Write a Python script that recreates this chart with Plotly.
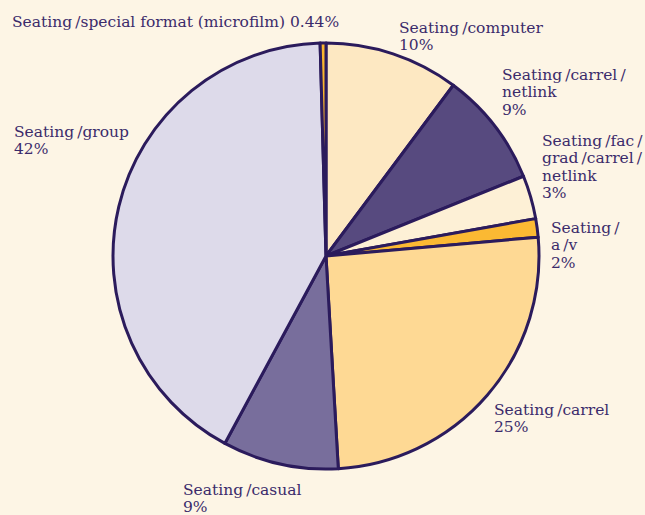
import plotly.graph_objects as go

# ---- data ----
categories = [
    "Seating/computer",
    "Seating/carrel/netlink",
    "Seating/fac/grad/carrel/netlink",
    "Seating/a/v",
    "Seating/carrel",
    "Seating/casual",
    "Seating/group",
    "Seating/special format (microfilm)",
]
values = [10.2, 8.7, 3.3, 1.4, 25.5, 8.8, 41.7, 0.44]
pct_labels = ["10%", "9%", "3%", "2%", "25%", "9%", "42%", "0.44%"]
S = "\u2009/"  # thin space before slash, like the reference's typesetting
label_lines = [
    [f"Seating{S}computer", "10%"],
    [f"Seating{S}carrel{S}", "netlink", "9%"],
    [f"Seating{S}fac{S}", f"grad{S}carrel{S}", "netlink", "3%"],
    [f"Seating{S}", f"a{S}v", "2%"],
    [f"Seating{S}carrel", "25%"],
    [f"Seating{S}casual", "9%"],
    [f"Seating{S}group", "42%"],
    [f"Seating{S}special format (microfilm) 0.44%"],
]
colors = ["#fde8c2", "#574a7f", "#fdf0d6", "#fbb933", "#fed994", "#786e9c", "#dddaea", "#f9b52e"]

# ---- layout (pixels) ----
W, H = 645, 515
cx, cy, R = 326, 256, 213
# label anchor: left x, first baseline y
label_pos = [
    (397, 33), (500, 80), (540, 146), (549, 233),
    (492, 415), (181, 495), (12, 137), (10, 27),
]
LINE = 17.3
FONT = "DejaVu Serif"
FS = 15.5
TXT = "#3b2b6b"

fig = go.Figure(go.Pie(
    labels=categories,
    values=values,
    sort=False,
    direction="clockwise",
    rotation=0,
    marker=dict(colors=colors, line=dict(color="#2b1b5c", width=3)),
    textinfo="none",
    hoverinfo="skip",
    showlegend=False,
    domain=dict(x=[(cx - R) / W, (cx + R) / W], y=[1 - (cy + R) / H, 1 - (cy - R) / H]),
))

annotations = []
for lines, (lx, ly) in zip(label_lines, label_pos):
    for i, t in enumerate(lines):
        base = ly + i * LINE
        annotations.append(dict(
            text=t, x=lx / W, y=1 - (base - 5) / H, xref="paper", yref="paper",
            xanchor="left", yanchor="middle", showarrow=False,
            font=dict(family=FONT, size=FS, color=TXT),
        ))

fig.update_layout(
    width=W, height=H,
    margin=dict(l=0, r=0, t=0, b=0),
    paper_bgcolor="#fdf5e5",
    plot_bgcolor="#fdf5e5",
    annotations=annotations,
)
fig.write_html(
    "out.html",
    config={"displayModeBar": False},
    post_script="document.body.style.margin='0';document.body.style.background='#fdf5e5';",
)
